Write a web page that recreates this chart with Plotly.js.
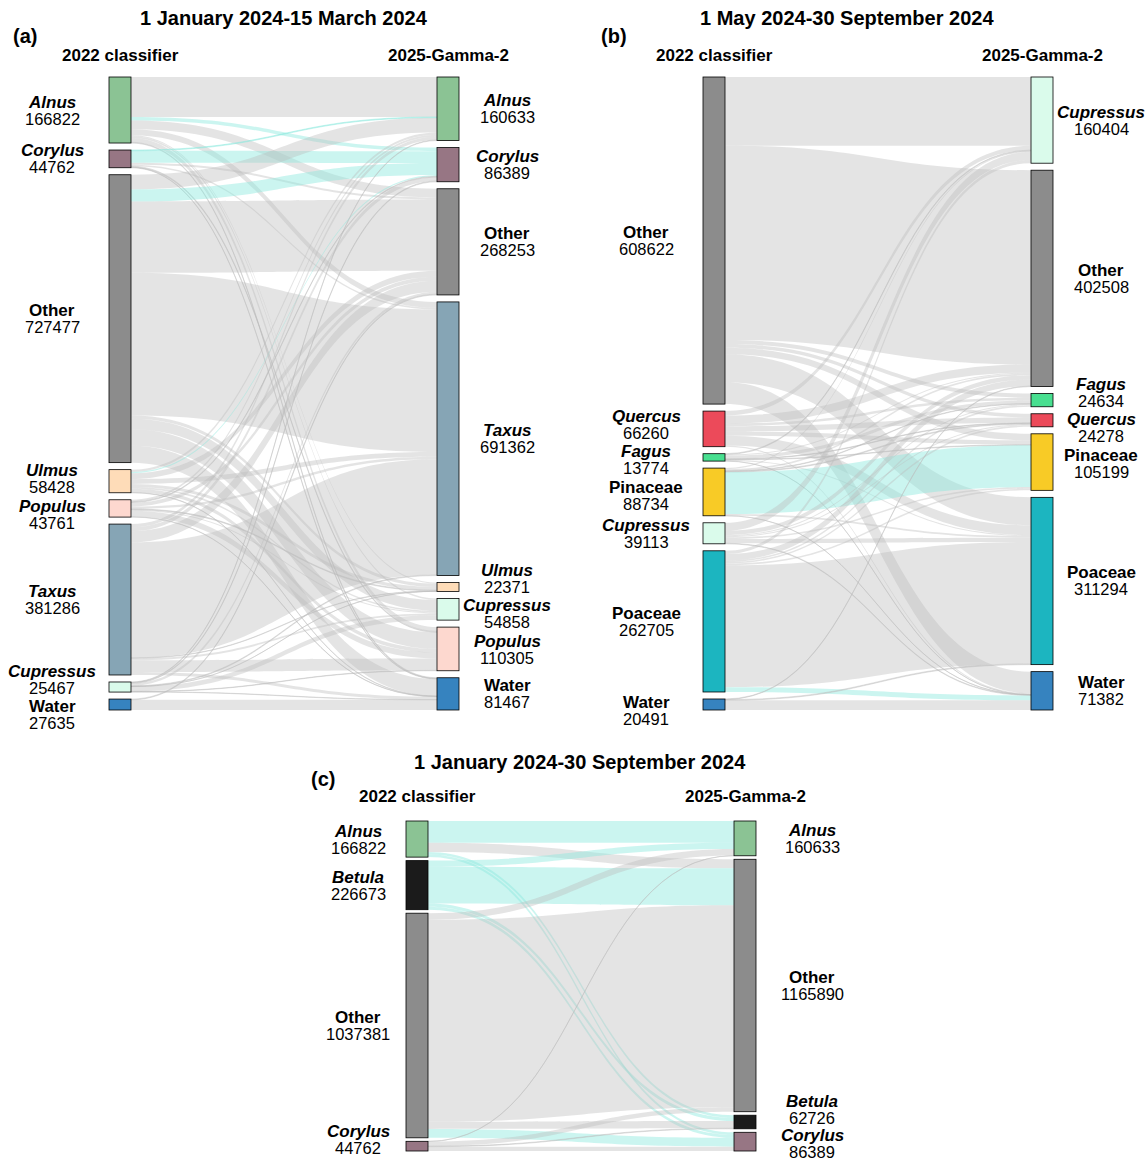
<!DOCTYPE html>
<html>
<head>
<meta charset="utf-8">
<script src="https://cdn.plot.ly/plotly-3.0.1.min.js"></script>
<style>
  html, body { margin: 0; padding: 0; background: #ffffff; }
  #chart { width: 1148px; height: 1162px; }
</style>
</head>
<body>
<div id="chart"></div>
<script>
// ---------------- Panel (a): 1 January 2024-15 March 2024 ----------------
const aLeftNames   = ['Alnus', 'Corylus', 'Other', 'Ulmus', 'Populus', 'Taxus', 'Cupressus', 'Water'];
const aLeftTotals  = [166822, 44762, 727477, 58428, 43761, 381286, 25467, 27635];
const aRightNames  = ['Alnus', 'Corylus', 'Other', 'Taxus', 'Ulmus', 'Cupressus', 'Populus', 'Water'];
const aRightTotals = [160633, 86389, 268253, 691362, 22371, 54858, 110305, 81467];
// one row per 2022-classifier class, columns in aRightNames order
const aFromAlnus     = [101000,  9000,  22000,  15000, 3000,  4000, 10822,  2000];
const aFromCorylus   = [  2000, 30000,   5000,   4000,    0,     0,  2500,  1262];
const aFromOther     = [ 37133, 30389, 180253, 360362, 8171, 26858, 41555, 42756];
const aFromUlmus     = [  6000,  3000,  15000,  12000, 8000,  4000,  9428,  1000];
const aFromPopulus   = [  5000,  2000,  10000,   6000, 2000,  3000, 15000,   761];
const aFromTaxus     = [  8000, 10000,  28000, 292000, 1000,  5000, 30000,  7286];
const aFromCupressus = [  1500,  2000,   6000,   2000,  200, 12000,  1000,   767];
const aFromWater     = [     0,     0,   2000,      0,    0,     0,     0, 25635];

// ---------------- Panel (b): 1 May 2024-30 September 2024 ----------------
const bLeftNames   = ['Other', 'Quercus', 'Fagus', 'Pinaceae', 'Cupressus', 'Poaceae', 'Water'];
const bLeftTotals  = [608622, 66260, 13774, 88734, 39113, 262705, 20491];
const bRightNames  = ['Cupressus', 'Other', 'Fagus', 'Quercus', 'Pinaceae', 'Poaceae', 'Water'];
const bRightTotals = [160404, 402508, 24634, 24278, 105199, 311294, 71382];
const bFromOther     = [127904, 361508, 7634,  6778, 12199,  52098, 40501];
const bFromQuercus   = [  8000,  15000, 5000, 10000,  8000,  18000,  2260];
const bFromFagus     = [  1500,   2000, 6000,  1000,  1000,   2000,   274];
const bFromPinaceae  = [  2000,   3000, 1000,  1500, 78000,   3000,   234];
const bFromCupressus = [ 15000,   8000, 2000,  2000,  3000,   8000,  1113];
const bFromPoaceae   = [  6000,  12000, 3000,  3000,  3000, 226705,  9000];
const bFromWater     = [     0,   1000,    0,     0,     0,   1491, 18000];

// ---------------- Panel (c): 1 January 2024-30 September 2024 ----------------
const cLeftNames   = ['Alnus', 'Betula', 'Other', 'Corylus'];
const cLeftTotals  = [166822, 226673, 1037381, 44762];
const cRightNames  = ['Alnus', 'Other', 'Betula', 'Corylus'];
const cRightTotals = [160633, 1165890, 62726, 86389];
const cFromAlnus   = [101000,  42000, 12000, 11822];
const cFromBetula  = [ 28000, 170000, 15000, 13673];
const cFromOther   = [ 30633, 932854, 33000, 40894];
const cFromCorylus = [  1000,  21036,  2726, 20000];

// ---------------- styling ----------------
const W = 1148, H = 1162;
const FONT = 'Liberation Sans, Arial, Helvetica, sans-serif';
const GREY = 'rgba(188,188,188,0.40)';
const CYAN = 'rgba(140,232,222,0.45)';

const fill = {
  Alnus: '#8bc394', Corylus: '#977684', Other: '#8c8c8c', Ulmus: '#fedcb8',
  Populus: '#fdd8cf', Taxus: '#86a5b5', Cupressus: '#dafbeb', Water: '#3683bf',
  Quercus: '#ec4a5a', Fagus: '#48df90', Pinaceae: '#f8cb26', Poaceae: '#1cb5c0',
  Betula: '#1b1b1b'
};
const edge = {
  Alnus: '#76a97e', Corylus: '#7f6370', Other: '#7a7a7a', Ulmus: '#dcb892',
  Populus: '#dcb0a6', Taxus: '#6d8a99', Cupressus: '#a8c8b8', Water: '#2d6fa3',
  Quercus: '#c53c4a', Fagus: '#3bbd78', Pinaceae: '#d1aa1c', Poaceae: '#179aa4',
  Betula: '#151515'
};
const italicNames = new Set(['Alnus', 'Corylus', 'Ulmus', 'Populus', 'Taxus',
  'Cupressus', 'Quercus', 'Fagus', 'Betula']);

// pixel frame of each diagram and label placement
const panels = [
  {
    tag: '(a)', title: '1 January 2024-15 March 2024',
    leftNames: aLeftNames, leftTotals: aLeftTotals,
    rightNames: aRightNames, rightTotals: aRightTotals,
    flows: [aFromAlnus, aFromCorylus, aFromOther, aFromUlmus, aFromPopulus,
            aFromTaxus, aFromCupressus, aFromWater],
    cyan: [['Alnus', 'Corylus'], ['Corylus', 'Corylus'], ['Corylus', 'Alnus'],
           ['Other', 'Corylus'], ['Ulmus', 'Corylus']],
    x0: 109, x1: 459, y0: 77, y1: 710, pad: 7,
    titleX: 284, titleY: 18, tagX: 25, tagY: 36, headY: 55,
    leftLabelX: 52, rightLabelX: 507,
    leftShift: {Ulmus: -2.5, Populus: 6.5, Cupressus: -8, Water: 10},
    rightShift: {Ulmus: -8.5, Cupressus: 4.5, Populus: 1}
  },
  {
    tag: '(b)', title: '1 May 2024-30 September 2024',
    leftNames: bLeftNames, leftTotals: bLeftTotals,
    rightNames: bRightNames, rightTotals: bRightTotals,
    flows: [bFromOther, bFromQuercus, bFromFagus, bFromPinaceae, bFromCupressus,
            bFromPoaceae, bFromWater],
    cyan: [['Pinaceae', 'Pinaceae'], ['Poaceae', 'Water']],
    x0: 703, x1: 1053, y0: 77, y1: 710, pad: 7,
    titleX: 847, titleY: 18, tagX: 614, tagY: 36, headY: 55,
    leftLabelX: 646, rightLabelX: 1101,
    leftShift: {Quercus: -4, Fagus: 2.5, Pinaceae: 4, Water: 6},
    rightShift: {Fagus: -7.5, Quercus: 7.5, Pinaceae: 1}
  },
  {
    tag: '(c)', title: '1 January 2024-30 September 2024',
    leftNames: cLeftNames, leftTotals: cLeftTotals,
    rightNames: cRightNames, rightTotals: cRightTotals,
    flows: [cFromAlnus, cFromBetula, cFromOther, cFromCorylus],
    cyan: [['Alnus', 'Alnus'], ['Alnus', 'Betula'], ['Alnus', 'Corylus'],
           ['Betula', 'Alnus'], ['Betula', 'Other'], ['Betula', 'Betula'],
           ['Betula', 'Corylus'], ['Other', 'Corylus']],
    x0: 406, x1: 756, y0: 821, y1: 1151, pad: 3.5,
    titleX: 580, titleY: 762, tagX: 323, tagY: 779, headY: 797,
    leftLabelX: 358, rightLabelX: 812,
    leftShift: {Corylus: -7},
    rightShift: {Betula: -13, Corylus: 1.5}
  }
];

const THICK = 22;
const px = x => x / W;
const py = y => 1 - y / H;

// stacked node centres (fraction of the diagram height, measured from the top)
function stackCentres(values, height, pad, ky) {
  let acc = 0;
  return values.map(v => {
    const h = v * ky;
    const c = (acc + h / 2) / height;
    acc += h + pad;
    return c;
  });
}

function nameText(name) {
  return italicNames.has(name) ? '<b><i>' + name + '</i></b>' : '<b>' + name + '</b>';
}

const traces = [];
const annotations = [];

panels.forEach(p => {
  const height = p.y1 - p.y0;
  const width = p.x1 - p.x0;
  const nL = p.leftNames.length, nR = p.rightNames.length;
  const sumL = p.leftTotals.reduce((s, v) => s + v, 0);
  const sumR = p.rightTotals.reduce((s, v) => s + v, 0);
  const ky = Math.min((height - (nL - 1) * p.pad) / sumL,
                      (height - (nR - 1) * p.pad) / sumR);
  const yL = stackCentres(p.leftTotals, height, p.pad, ky);
  const yR = stackCentres(p.rightTotals, height, p.pad, ky);
  const xL = (THICK / 2) / width;
  const xR = 1 - (THICK / 2) / width;

  const allNames = p.leftNames.concat(p.rightNames);
  const source = [], target = [], value = [], color = [];
  p.flows.forEach((row, i) => {
    row.forEach((v, j) => {
      if (v > 0) {
        source.push(i);
        target.push(nL + j);
        value.push(v);
        const isCyan = p.cyan.some(c => c[0] === p.leftNames[i] && c[1] === p.rightNames[j]);
        color.push(isCyan ? CYAN : GREY);
      }
    });
  });

  traces.push({
    type: 'sankey',
    arrangement: 'snap',
    domain: { x: [px(p.x0), px(p.x1)], y: [py(p.y1), py(p.y0)] },
    node: {
      label: allNames.map(() => ''),
      x: Array(nL).fill(xL).concat(Array(nR).fill(xR)),
      y: yL.concat(yR),
      pad: p.pad,
      thickness: THICK,
      color: allNames.map(n => fill[n]),
      line: { color: allNames.map(n => edge[n]), width: 0.8 },
      hoverinfo: 'none'
    },
    link: { source, target, value, color, hoverinfo: 'none' }
  });

  // panel title, tag and column headings
  annotations.push({ text: '<b>' + p.title + '</b>', x: px(p.titleX), y: py(p.titleY),
    font: { size: 20, color: '#000' } });
  annotations.push({ text: '<b>' + p.tag + '</b>', x: px(p.tagX), y: py(p.tagY),
    font: { size: 20, color: '#000' } });
  annotations.push({ text: '<b>2022 classifier</b>', x: px(p.x0 + THICK / 2), y: py(p.headY),
    font: { size: 17, color: '#000' } });
  annotations.push({ text: '<b>2025-Gamma-2</b>', x: px(p.x1 - THICK / 2), y: py(p.headY),
    font: { size: 17, color: '#000' } });

  // node labels: name above, count below
  const addLabel = (name, total, centreFrac, lx, shift) => {
    const cy = p.y0 + centreFrac * height + (shift[name] || 0);
    annotations.push({ text: nameText(name), x: px(lx), y: py(cy - 8),
      font: { size: 17, color: '#000' } });
    annotations.push({ text: String(total), x: px(lx), y: py(cy + 8.5),
      font: { size: 16.5, color: '#000' } });
  };
  p.leftNames.forEach((n, i) => addLabel(n, p.leftTotals[i], yL[i], p.leftLabelX, p.leftShift));
  p.rightNames.forEach((n, j) => addLabel(n, p.rightTotals[j], yR[j], p.rightLabelX, p.rightShift));
});

annotations.forEach(a => {
  a.xref = 'paper'; a.yref = 'paper';
  a.xanchor = 'center'; a.yanchor = 'middle';
  a.showarrow = false;
});

const layout = {
  width: W, height: H,
  margin: { l: 0, r: 0, t: 0, b: 0, pad: 0 },
  paper_bgcolor: '#ffffff',
  font: { family: FONT, color: '#000' },
  annotations: annotations,
  showlegend: false
};

Plotly.newPlot('chart', traces, layout, { displayModeBar: false, staticPlot: true });
</script>
</body>
</html>
